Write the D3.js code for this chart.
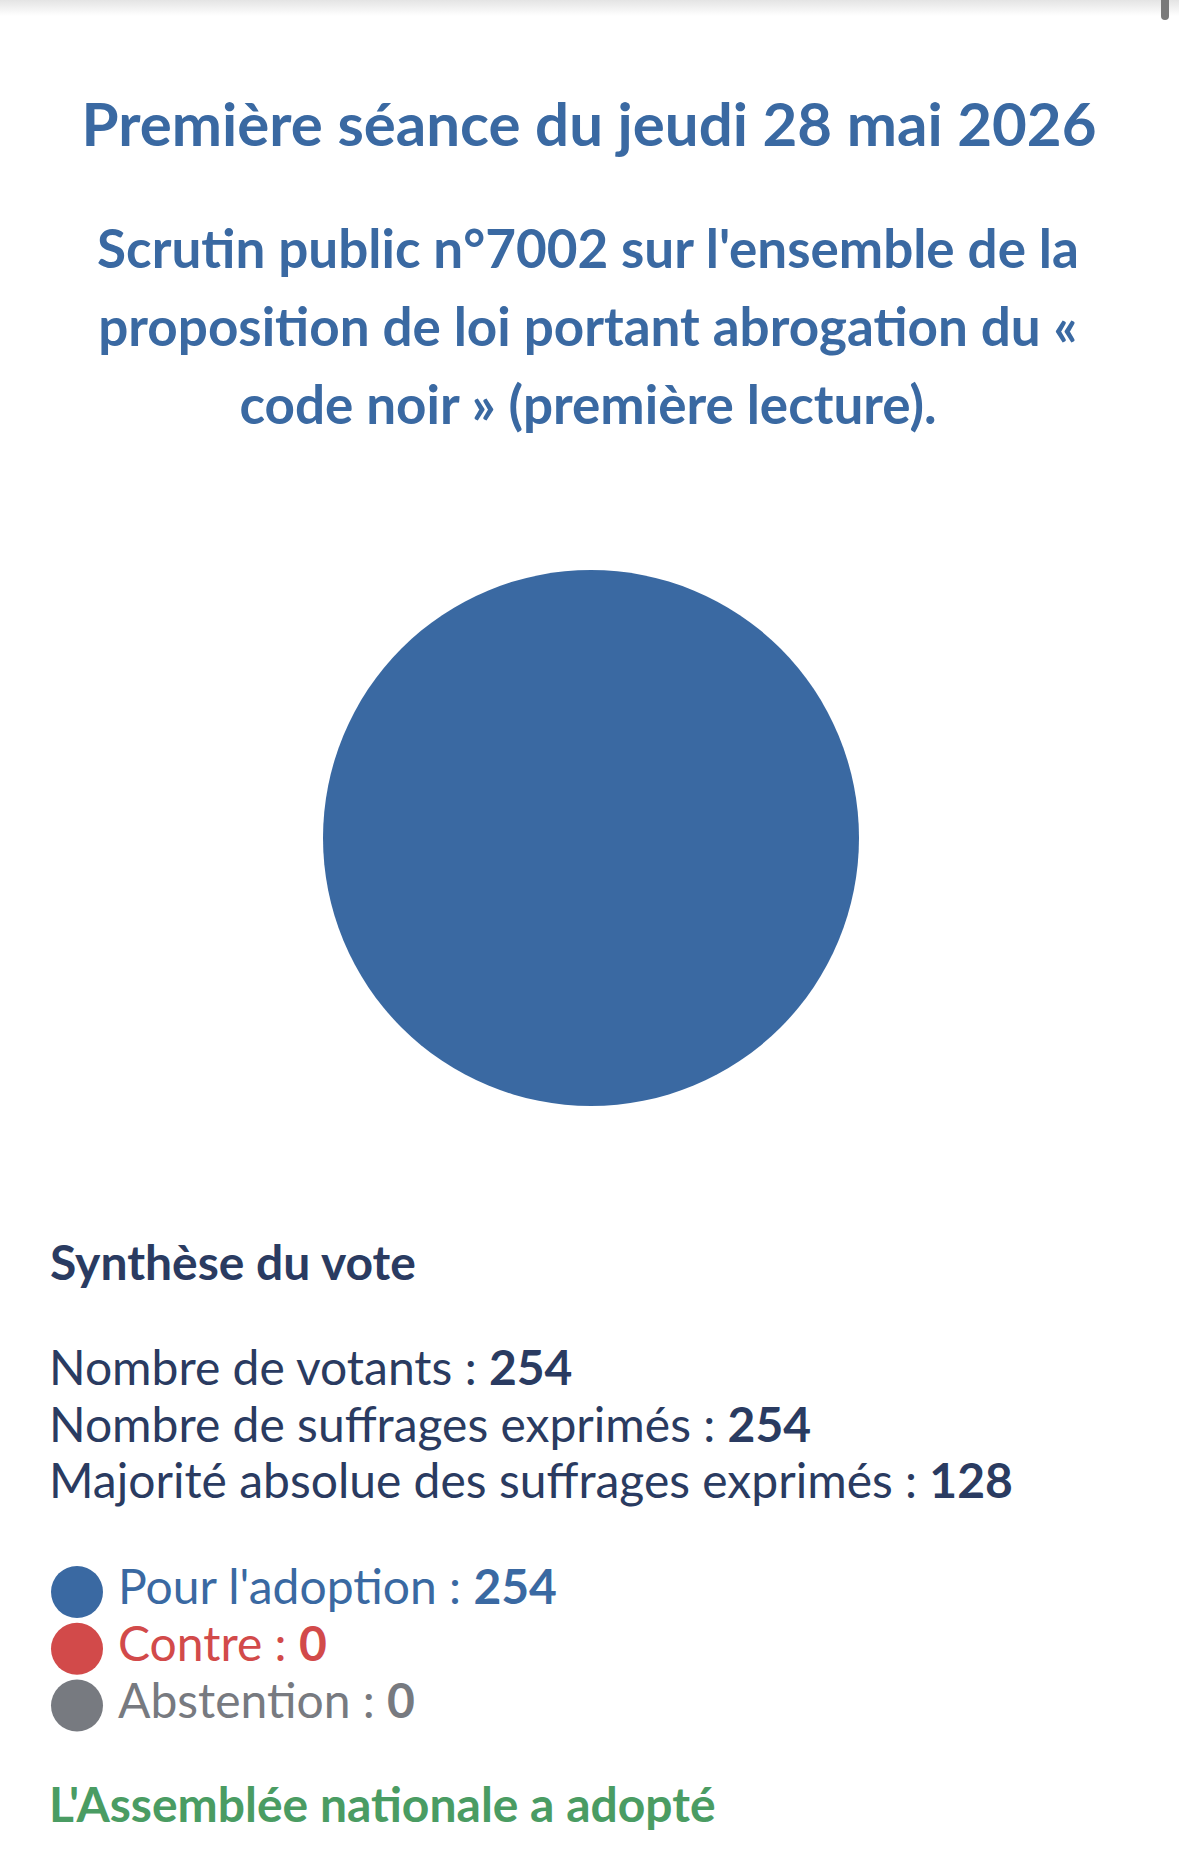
<!DOCTYPE html>
<html>
<head>
<meta charset="utf-8">
<script src="https://cdn.jsdelivr.net/npm/d3@7/dist/d3.min.js"></script>
<style>
  html, body { margin: 0; padding: 0; background: #fff; }
  svg { display: block; font-family: Lato, "Noto Sans", sans-serif; }
</style>
</head>
<body>
<svg id="chart" width="1179" height="1864"></svg>
<script>
const titleText = "Première séance du jeudi 28 mai 2026";
const subtitleLines = [
  "Scrutin public n°7002 sur l'ensemble de la",
  "proposition de loi portant abrogation du «",
  "code noir » (première lecture)."
];
const categories = ["Pour l'adoption", "Contre", "Abstention"];
const votes = [254, 0, 0];
const categoryColors = ["#3a69a2", "#d24a4a", "#777a80"];
const summaryLabels = ["Nombre de votants", "Nombre de suffrages exprimés", "Majorité absolue des suffrages exprimés"];
const summaryValues = [254, 254, 128];
const sectionTitle = "Synthèse du vote";
const resultText = "L'Assemblée nationale a adopté";

const svg = d3.select("#chart");
const W = 1179;

// top shadow
const defs = svg.append("defs");
const grad = defs.append("linearGradient").attr("id", "topShadow").attr("x1", 0).attr("y1", 0).attr("x2", 0).attr("y2", 1);
grad.append("stop").attr("offset", "0%").attr("stop-color", "#e4e4e4");
grad.append("stop").attr("offset", "100%").attr("stop-color", "#ffffff");
svg.append("rect").attr("x", 0).attr("y", 0).attr("width", W).attr("height", 16).attr("fill", "url(#topShadow)");
svg.append("rect").attr("x", 1161).attr("y", -6).attr("width", 8).attr("height", 26).attr("rx", 4).attr("fill", "#7a7a7a");

// title
svg.append("text")
  .attr("x", 589).attr("y", 146)
  .attr("text-anchor", "middle")
  .attr("font-size", 60).attr("font-weight", 700)
  .attr("fill", "#3a69a2")
  .text(titleText);

svg.append("g").selectAll("text").data(subtitleLines).join("text")
  .attr("x", 588).attr("y", (d, i) => 268 + i * 78)
  .attr("text-anchor", "middle")
  .attr("font-size", 53).attr("font-weight", 700)
  .attr("fill", "#3a69a2")
  .text(d => d);

// pie
const color = d3.scaleOrdinal().domain(categories).range(categoryColors);
const data = categories.map((c, i) => ({ category: c, value: votes[i] }));
const pie = d3.pie().value(d => d.value).sort(null);
const arc = d3.arc().innerRadius(0).outerRadius(268);
svg.append("g").attr("transform", "translate(591,838)")
  .selectAll("path").data(pie(data)).join("path")
  .attr("d", arc)
  .attr("fill", d => color(d.data.category));

// summary
svg.append("text")
  .attr("x", 50).attr("y", 1280)
  .attr("font-size", 48).attr("font-weight", 700)
  .attr("fill", "#2a3b61")
  .text(sectionTitle);

const sum = svg.append("g").selectAll("text").data(summaryLabels).join("text")
  .attr("x", 49).attr("y", (d, i) => 1385 + i * 56.5)
  .attr("font-size", 48)
  .attr("fill", "#2a3b61");
sum.append("tspan").text(d => d + " : ");
sum.append("tspan").attr("font-weight", 700).text((d, i) => summaryValues[i]);

// legend
const leg = svg.append("g").selectAll("g").data(data).join("g")
  .attr("transform", (d, i) => `translate(0,${1592 + i * 56.8})`);
leg.append("circle").attr("cx", 77).attr("cy", 0).attr("r", 26).attr("fill", d => color(d.category));
const lt = leg.append("text").attr("x", 118).attr("y", 12)
  .attr("font-size", 48)
  .attr("fill", d => color(d.category));
lt.append("tspan").text(d => d.category + " : ");
lt.append("tspan").attr("font-weight", 700).text(d => d.value);

// result
svg.append("text")
  .attr("x", 49).attr("y", 1822)
  .attr("font-size", 48).attr("font-weight", 700)
  .attr("fill", "#4a9c63")
  .text(resultText);
</script>
</body>
</html>
